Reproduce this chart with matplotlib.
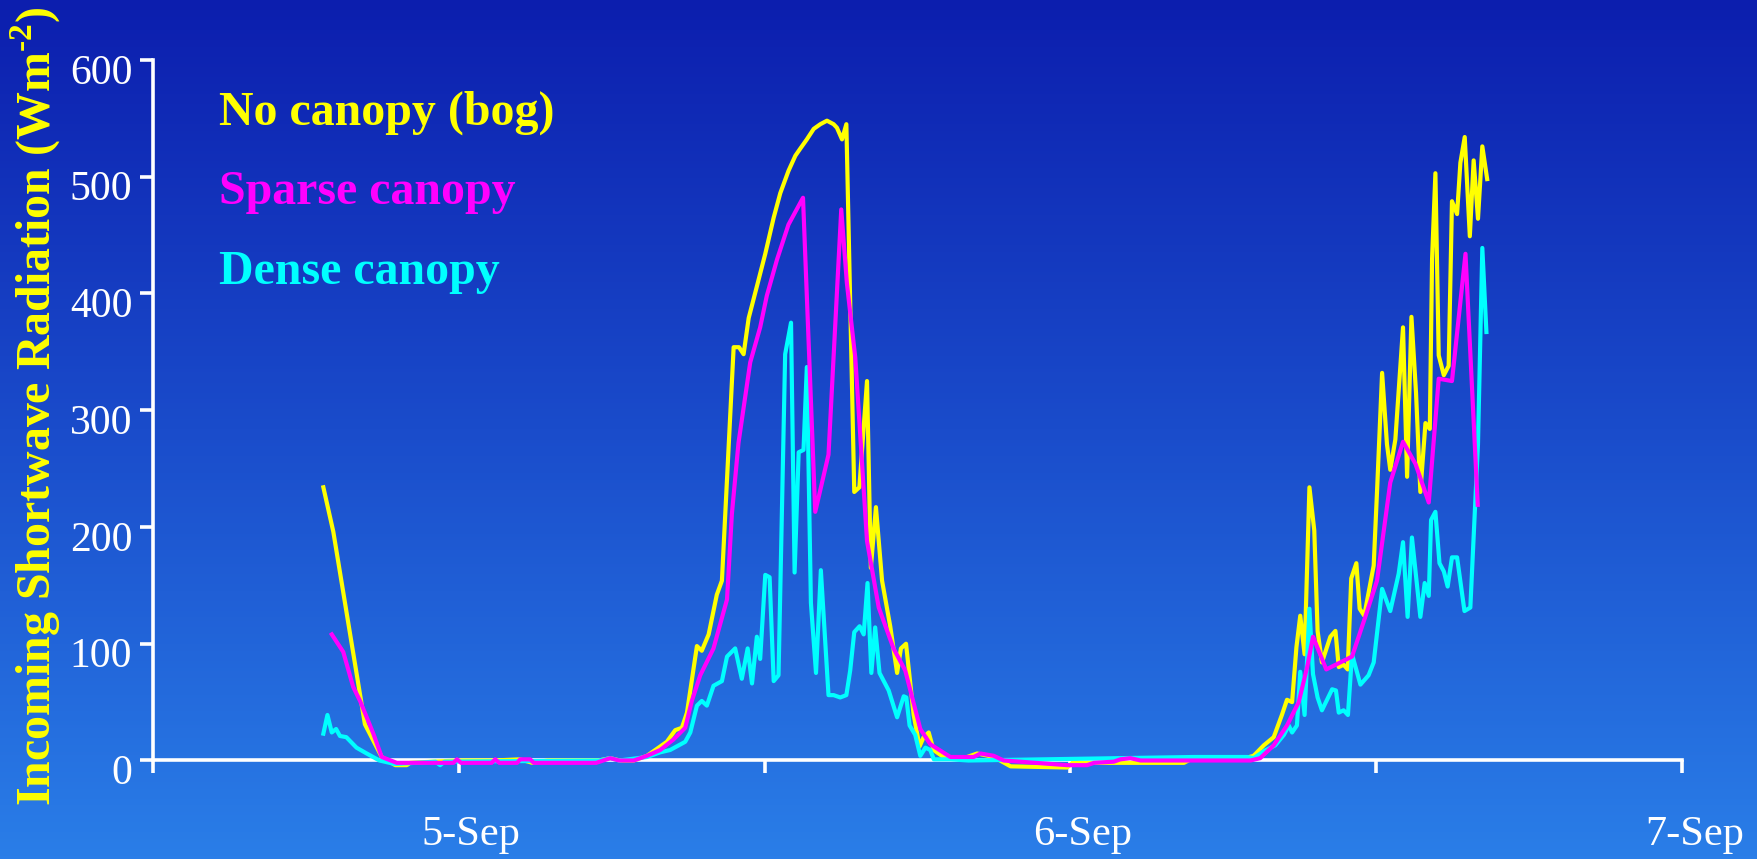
import matplotlib

matplotlib.use("Agg")

import matplotlib.pyplot as plt
import matplotlib.transforms as mtransforms
import numpy as np
from matplotlib.colors import LinearSegmentedColormap

# hours since 4-Sep 00:00, values in W m-2
BOG_HOURS = [
    18.70, 19.09, 20.33, 20.99, 21.52, 21.97, 22.10, 23.00, 24.00, 25.40, 26.40, 26.90,
    27.50, 29.50, 29.95, 30.34, 30.87, 31.39, 31.91, 32.17, 32.50, 32.76, 32.96, 33.35,
    33.54, 33.81, 34.13, 34.33, 34.79, 35.00, 35.18, 35.38, 35.70, 36.03, 36.36, 36.62,
    36.94, 37.21, 37.40, 37.66, 37.93, 38.19, 38.45, 38.71, 38.84, 39.04, 39.21, 39.52,
    39.72, 40.02, 40.17, 40.37, 40.61, 40.93, 41.20, 41.35, 41.55, 41.85, 42.08, 42.24,
    42.44, 42.63, 43.02, 43.68, 44.34, 44.99, 45.65, 47.87, 48.13, 48.39, 50.75, 52.45,
    52.71, 54.66, 55.18, 55.58, 55.97, 56.29, 56.49, 56.69, 56.86, 57.01, 57.18, 57.37,
    57.56, 57.69, 57.86, 58.19, 58.39, 58.52, 58.71, 58.87, 59.01, 59.21, 59.34, 59.52,
    59.89, 60.02, 60.22, 60.41, 60.54, 60.74, 61.04, 61.20, 61.37, 61.55, 61.72, 61.92,
    62.09, 62.18, 62.31, 62.44, 62.64, 62.83, 62.96, 63.16, 63.29, 63.46, 63.66, 63.81,
    63.98, 64.15, 64.34,
]
BOG_VALUES = [
    234, 196, 31, 3, -4, -4, -2, -1, 0, 0, 1, -2,
    0, 0, 2, 0, 0, 4, 12, 16, 26, 28, 41, 98,
    94, 108, 142, 154, 354, 354, 348, 379, 406, 434, 465, 486,
    505, 518, 524, 532, 541, 545, 548, 545, 542, 532, 545, 230,
    234, 325, 165, 217, 154, 115, 75, 96, 100, 39, 12, 20,
    24, 9, 3, 1, 6, 3, -5, -6, -1, -2, -2, -2,
    1, 1, 4, 13, 20, 39, 52, 50, 97, 124, 91, 234,
    197, 111, 84, 106, 111, 80, 82, 78, 156, 169, 130, 124,
    167, 230, 332, 271, 249, 275, 371, 243, 380, 315, 230, 289,
    284, 430, 503, 347, 330, 338, 479, 468, 512, 534, 449, 514,
    464, 526, 498,
]

SPARSE_HOURS = [
    19.03, 19.48, 19.87, 20.14, 20.66, 20.99, 21.58, 23.80, 23.94, 24.10, 25.30, 25.44,
    25.60, 26.30, 26.42, 26.81, 26.95, 29.40, 29.95, 30.30, 30.87, 31.39, 31.91, 32.43,
    32.89, 33.15, 33.48, 34.00, 34.53, 34.72, 34.98, 35.44, 35.83, 36.09, 36.49, 36.94,
    37.51, 37.99, 38.51, 39.01, 39.23, 39.56, 40.02, 40.48, 41.06, 41.52, 42.11, 42.50,
    42.64, 43.29, 44.20, 44.47, 44.99, 45.38, 47.87, 48.65, 48.92, 49.70, 49.96, 50.35,
    50.75, 55.06, 55.44, 55.97, 56.49, 56.95, 57.28, 57.51, 58.03, 58.58, 59.04, 59.56,
    60.02, 60.54, 61.04, 61.53, 62.05, 62.44, 62.96, 63.49, 63.97,
]
SPARSE_VALUES = [
    108, 93, 63, 51, 23, 3, -2, -2, 1, -2, -2, 1,
    -2, -2, 1, 1, -2, -2, 2, 0, 0, 4, 9, 18,
    28, 51, 73, 96, 138, 211, 272, 341, 371, 398, 429, 459,
    482, 213, 262, 472, 409, 345, 188, 131, 96, 77, 27, 14,
    12, 3, 3, 6, 4, 0, -4, -4, -2, -1, 1, 2,
    0, 0, 2, 13, 30, 50, 80, 106, 78, 84, 89, 123,
    154, 238, 273, 254, 221, 327, 325, 434, 219,
]

DENSE_HOURS = [
    18.70, 18.86, 19.03, 19.20, 19.35, 19.60, 20.00, 20.40, 20.90, 21.50, 23.10, 23.28,
    23.45, 29.50, 29.95, 30.30, 31.39, 31.91, 32.30, 32.89, 33.09, 33.35, 33.54, 33.74,
    34.00, 34.33, 34.53, 34.85, 35.11, 35.34, 35.51, 35.70, 35.83, 36.03, 36.20, 36.36,
    36.55, 36.81, 37.04, 37.18, 37.34, 37.53, 37.66, 37.82, 38.02, 38.21, 38.51, 38.71,
    38.97, 39.21, 39.36, 39.52, 39.73, 39.89, 40.04, 40.19, 40.34, 40.51, 40.87, 41.20,
    41.46, 41.56, 41.69, 41.91, 42.11, 42.31, 42.50, 42.64, 43.29, 44.00, 52.84, 54.93,
    55.18, 55.58, 56.03, 56.37, 56.56, 56.69, 56.88, 57.01, 57.18, 57.37, 57.51, 57.69,
    57.86, 58.26, 58.41, 58.52, 58.71, 58.88, 59.04, 59.37, 59.69, 59.89, 60.22, 60.54,
    60.87, 61.04, 61.22, 61.39, 61.72, 61.89, 62.05, 62.14, 62.31, 62.47, 62.64, 62.79,
    62.96, 63.16, 63.45, 63.68, 63.98, 64.15, 64.31,
]
DENSE_VALUES = [
    23, 39, 24, 27, 21, 20, 11, 6, 0, -3, -1, -4,
    -1, 0, 2, 0, 3, 7, 9, 16, 24, 47, 51, 47,
    64, 68, 89, 96, 70, 96, 66, 106, 87, 159, 157, 68,
    73, 348, 375, 161, 264, 266, 337, 135, 75, 163, 56, 56,
    54, 56, 77, 110, 115, 108, 152, 75, 114, 75, 60, 37,
    55, 54, 30, 22, 4, 11, 9, 1, 1, 0, 3, 3,
    2, 8, 13, 22, 30, 24, 30, 76, 39, 130, 74, 54,
    43, 61, 60, 41, 43, 39, 91, 65, 73, 84, 147, 128,
    160, 187, 123, 191, 123, 152, 141, 206, 213, 169, 162, 149,
    174, 174, 128, 131, 271, 439, 367,
]

SERIES = [
    ("No canopy (bog)", BOG_HOURS, BOG_VALUES, "#ffff00"),
    ("Dense canopy", DENSE_HOURS, DENSE_VALUES, "#00ffff"),
    ("Sparse canopy", SPARSE_HOURS, SPARSE_VALUES, "#ff00ff"),
]
LEGEND_ORDER = [
    ("No canopy (bog)", "#ffff00"),
    ("Sparse canopy", "#ff00ff"),
    ("Dense canopy", "#00ffff"),
]

X_TICKS = [12, 24, 36, 48, 60, 72]
X_TICK_LABELS = ["", "5-Sep", "", "6-Sep", "", "7-Sep"]
Y_TICKS = [0, 100, 200, 300, 400, 500, 600]

SERIF = ["Liberation Serif", "DejaVu Serif"]

fig = plt.figure(figsize=(17.58, 8.59), dpi=100)

# vertical gradient background
bg = fig.add_axes([0, 0, 1, 1], zorder=0)
grad = np.linspace(0, 1, 256).reshape(-1, 1)
cmap = LinearSegmentedColormap.from_list("bg", ["#0c1eae", "#1a4ccb", "#2a7ee8"])
bg.imshow(grad, aspect="auto", cmap=cmap, extent=[0, 1, 0, 1], origin="upper")
bg.axis("off")

ax = fig.add_axes([0.08675, 0.11467, 0.8703, 0.8155], zorder=1)
ax.patch.set_alpha(0)

for name, hours, values, color in SERIES:
    ax.plot(hours, values, color=color, linewidth=3.0, zorder=3, clip_on=False)

ax.set_xlim(12, 72)
ax.set_ylim(0, 600)
ax.set_xticks(X_TICKS)
ax.set_xticklabels(X_TICK_LABELS)
ax.set_yticks(Y_TICKS)

for side in ["top", "right"]:
    ax.spines[side].set_visible(False)
for side in ["left", "bottom"]:
    ax.spines[side].set_color("white")
    ax.spines[side].set_linewidth(2.6)
    ax.spines[side].set_zorder(2)

ax.tick_params(axis="both", colors="white", width=2.6, length=9.5, direction="out")
ax.tick_params(axis="y", pad=5)
ax.tick_params(axis="x", pad=30)

for label in ax.get_yticklabels():
    label.set_fontfamily(SERIF)
    label.set_fontsize(30)
    label.set_transform(label.get_transform() + mtransforms.ScaledTranslation(0, -9 / 100, fig.dpi_scale_trans))
for label in ax.get_xticklabels():
    label.set_fontfamily(SERIF)
    label.set_fontsize(30.5)
    label.set_transform(label.get_transform() + mtransforms.ScaledTranslation(12 / 100, 0, fig.dpi_scale_trans))

fig.text(0.0205, 0.527, "Incoming Shortwave Radiation (Wm$^{\\mathregular{\u20102}}$)",
         rotation=90, ha="center", va="center", color="#ffff00",
         fontsize=34.5, fontweight="bold", family=SERIF)

baselines = [1 - 125 / 859, 1 - 204 / 859, 1 - 284 / 859]
for (name, color), y in zip(LEGEND_ORDER, baselines):
    fig.text(0.1243, y, name, color=color, fontsize=34.5, fontweight="bold",
             family=SERIF, ha="left", va="baseline")

fig.savefig("out.png", dpi=100)
